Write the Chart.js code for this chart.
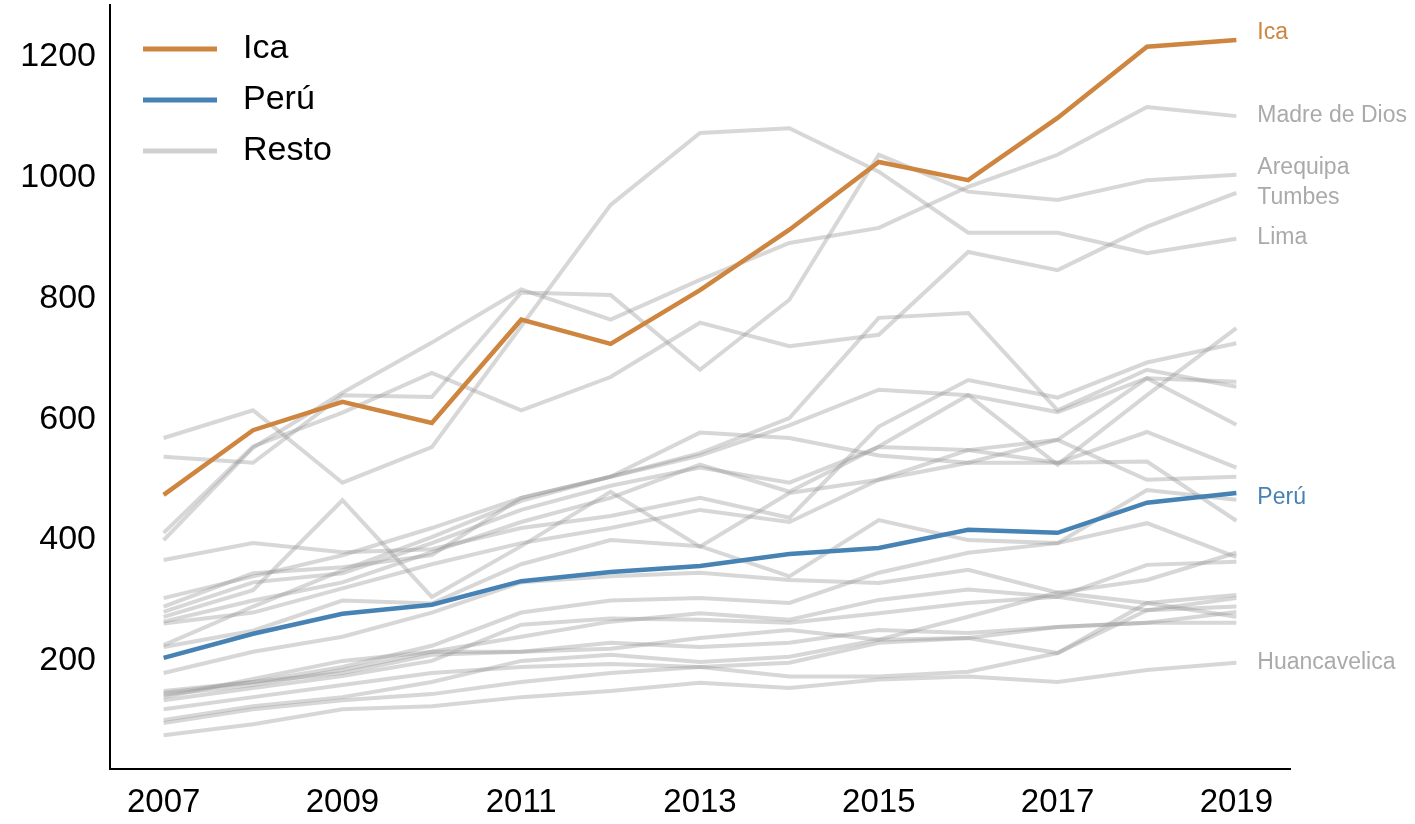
<!DOCTYPE html>
<html>
<head>
<meta charset="utf-8">
<script src="https://cdn.jsdelivr.net/npm/chart.js@4"></script>
<style>
  body { margin: 0; background: #fff; }
  canvas { display: block; }
</style>
</head>
<body>
<canvas id="chart" width="1415" height="824"></canvas>
<script>
// years on the x axis
const years = [2007, 2008, 2009, 2010, 2011, 2012, 2013, 2014, 2015, 2016, 2017, 2018, 2019];
const xTicks = [2007, 2009, 2011, 2013, 2015, 2017, 2019];
const yTicks = [200, 400, 600, 800, 1000, 1200];

const ica = [475, 582, 629, 594, 765, 725, 814, 914, 1026, 996, 1099, 1217, 1228];
const peru = [205, 245, 278, 293, 332, 347, 357, 377, 387, 417, 412, 462, 478];

// named regions (labelled at the right)
const madreDeDios = [400, 553, 644, 727, 815, 765, 831, 892, 917, 985, 1038, 1117, 1102];
const arequipa = [538, 528, 640, 637, 810, 806, 682, 798, 1038, 977, 963, 996, 1005];
const tumbes = [412, 555, 611, 677, 615, 670, 760, 721, 740, 877, 847, 919, 975];
const lima = [569, 615, 495, 554, 754, 955, 1074, 1082, 1010, 909, 909, 875, 899];
const huancavelica = [77, 95, 120, 125, 140, 150, 164, 155, 169, 174, 165, 185, 197];

// the other regions (grey, unlabelled)
const resto = [
    [304, 340, 375, 420, 470, 505, 540, 590, 649, 640, 525, 640, 751],
    [367, 395, 380, 385, 420, 440, 470, 437, 588, 665, 636, 694, 726],
    [281, 330, 345, 395, 450, 490, 520, 495, 554, 549, 566, 668, 662],
    [226, 290, 350, 405, 465, 505, 544, 602, 768, 776, 615, 682, 654],
    [265, 300, 330, 380, 430, 470, 525, 480, 555, 640, 612, 668, 591],
    [290, 345, 355, 375, 470, 505, 578, 569, 540, 528, 528, 579, 520],
    [262, 280, 320, 360, 395, 420, 450, 430, 500, 528, 566, 500, 505],
    [223, 250, 300, 295, 360, 400, 390, 340, 433, 400, 395, 483, 467],
    [273, 317, 466, 306, 390, 480, 389, 478, 500, 549, 528, 530, 432],
    [180, 215, 240, 280, 330, 340, 346, 334, 329, 351, 313, 334, 379],
    [147, 165, 190, 225, 280, 300, 304, 296, 346, 379, 395, 428, 372],
    [144, 160, 185, 215, 240, 265, 279, 268, 301, 318, 306, 359, 364],
    [140, 170, 200, 215, 215, 220, 238, 251, 235, 273, 313, 296, 309],
    [135, 155, 175, 200, 260, 270, 268, 263, 279, 296, 306, 284, 304],
    [150, 165, 180, 210, 215, 230, 223, 230, 251, 246, 256, 263, 281],
    [102, 125, 140, 165, 200, 210, 198, 207, 235, 238, 213, 296, 273],
    [97, 120, 135, 145, 165, 180, 190, 197, 230, 238, 256, 263, 263],
    [120, 140, 160, 180, 190, 195, 190, 174, 174, 182, 213, 284, 290]
];

const ORANGE = '#cd853f';
const BLUE = '#4682b4';
const GREY = 'rgba(150, 150, 150, 0.38)';
const LABEL_GREY = '#aaaaaa';
const FONT = '"Liberation Sans", Arial, Helvetica, sans-serif';

function toPoints(values) {
    return values.map((v, i) => ({ x: years[i], y: v }));
}

function lineSet(label, values, color, width) {
    return {
        label: label,
        data: toPoints(values),
        borderColor: color,
        borderWidth: width,
        pointRadius: 0,
        tension: 0,
        fill: false
    };
}

// dataset 0 is drawn on top
const datasets = [
    lineSet('Ica', ica, ORANGE, 4.5),
    lineSet('Perú', peru, BLUE, 4.5),
    lineSet('Madre de Dios', madreDeDios, GREY, 4),
    lineSet('Arequipa', arequipa, GREY, 4),
    lineSet('Tumbes', tumbes, GREY, 4),
    lineSet('Lima', lima, GREY, 4),
    lineSet('Huancavelica', huancavelica, GREY, 4)
];
resto.forEach((r, i) => datasets.push(lineSet('Resto ' + (i + 1), r, GREY, 4)));

const endLabels = [
    { name: 'Ica', color: ORANGE, dy: -7 },
    { name: 'Madre de Dios', color: LABEL_GREY, dy: 0 },
    { name: 'Arequipa', color: LABEL_GREY, dy: -7 },
    { name: 'Tumbes', color: LABEL_GREY, dy: 5 },
    { name: 'Lima', color: LABEL_GREY, dy: -1 },
    { name: 'Perú', color: BLUE, dy: 5 },
    { name: 'Huancavelica', color: LABEL_GREY, dy: 0 }
];

const legendItems = [
    { text: 'Ica', color: ORANGE },
    { text: 'Perú', color: BLUE },
    { text: 'Resto', color: 'rgba(150, 150, 150, 0.45)' }
];

const annotatePlugin = {
    id: 'annotate',
    afterDatasetsDraw(chart) {
        const ctx = chart.ctx;
        const xs = chart.scales.x;
        const ys = chart.scales.y;
        ctx.save();

        // labels at the end of the lines
        ctx.font = '23px ' + FONT;
        ctx.textBaseline = 'middle';
        ctx.textAlign = 'left';
        endLabels.forEach(l => {
            const ds = chart.data.datasets.find(d => d.label === l.name);
            const last = ds.data[ds.data.length - 1];
            ctx.fillStyle = l.color;
            ctx.fillText(l.name, xs.getPixelForValue(last.x) + 21, ys.getPixelForValue(last.y) + l.dy);
        });

        // legend in the top left corner
        ctx.font = '34px ' + FONT;
        legendItems.forEach((item, i) => {
            const y = 49 + i * 51;
            ctx.strokeStyle = item.color;
            ctx.lineWidth = 5;
            ctx.beginPath();
            ctx.moveTo(143, y);
            ctx.lineTo(217, y);
            ctx.stroke();
            ctx.fillStyle = '#000';
            ctx.fillText(item.text, 243, y);
        });
        ctx.restore();
    }
};

new Chart(document.getElementById('chart'), {
    type: 'line',
    data: { datasets: datasets },
    options: {
        responsive: false,
        animation: false,
        layout: { padding: { top: 5, right: 125, left: 0, bottom: 0 } },
        scales: {
            x: {
                type: 'linear',
                min: 2006.4,
                max: 2019.6,
                afterBuildTicks: axis => { axis.ticks = xTicks.map(v => ({ value: v })); },
                afterFit: axis => {
                    axis.height = 55;
                    axis.paddingLeft = 0;
                    axis.paddingRight = 0;
                },
                grid: { display: false, drawTicks: false },
                border: { display: true, color: '#000', width: 2 },
                ticks: {
                    color: '#000',
                    padding: 14,
                    maxRotation: 0,
                    font: { family: FONT, size: 33 },
                    callback: v => String(v)
                }
            },
            y: {
                min: 21,
                max: 1286,
                afterBuildTicks: axis => { axis.ticks = yTicks.map(v => ({ value: v })); },
                afterFit: axis => {
                    axis.width = 110;
                    axis.paddingTop = 0;
                    axis.paddingBottom = 0;
                },
                grid: { display: false, drawTicks: false },
                border: { display: true, color: '#000', width: 2 },
                ticks: {
                    color: '#000',
                    padding: 14,
                    font: { family: FONT, size: 34 },
                    callback: v => String(v)
                }
            }
        },
        plugins: {
            legend: { display: false },
            tooltip: { enabled: false }
        }
    },
    plugins: [annotatePlugin]
});
</script>
</body>
</html>
